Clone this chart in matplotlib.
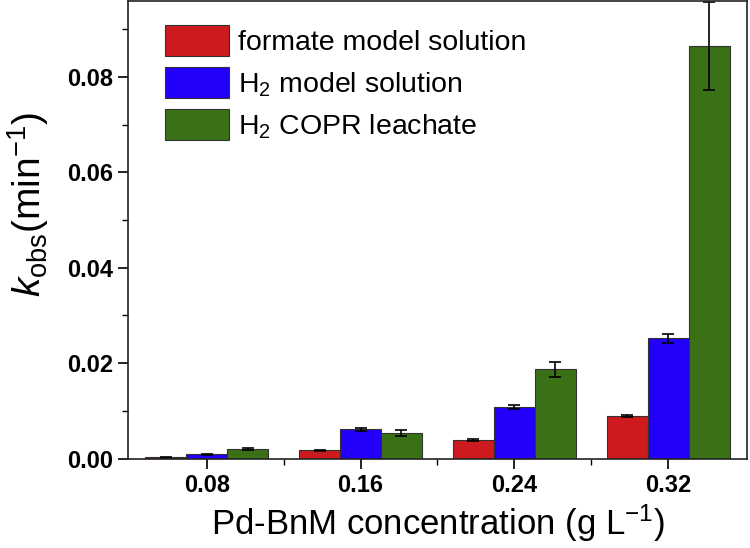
import matplotlib
matplotlib.use('Agg')
import matplotlib.pyplot as plt
import matplotlib.ticker as ticker
import numpy as np

plt.rcParams['font.family'] = ['Liberation Sans', 'DejaVu Sans']
plt.rcParams['mathtext.fontset'] = 'custom'
plt.rcParams['mathtext.rm'] = 'Liberation Sans'
plt.rcParams['mathtext.it'] = 'Liberation Sans:italic'
plt.rcParams['mathtext.bf'] = 'Liberation Sans:bold'

# data
concentrations = ['0.08', '0.16', '0.24', '0.32']
formate_model = [0.0003, 0.0017, 0.0038, 0.0089]
formate_err = [0.0001, 0.0001, 0.0002, 0.0003]
h2_model = [0.0009, 0.0061, 0.0108, 0.0252]
h2_model_err = [0.0001, 0.0003, 0.0005, 0.0010]
h2_copr = [0.0020, 0.0054, 0.0187, 0.0865]
h2_copr_err = [0.0003, 0.0006, 0.0016, 0.0092]
labels = ['formate model solution', 'H$_2$ model solution', 'H$_2$ COPR leachate']
colors = ['#cc1a1f', '#2200fa', '#3a7016']

fig = plt.figure(figsize=(7.5, 5.48), dpi=100)
ax = fig.add_axes([0.171, 0.1633, 0.8246, 0.835])

x = np.arange(len(concentrations))
w = 0.266
series = [(formate_model, formate_err), (h2_model, h2_model_err), (h2_copr, h2_copr_err)]
for i, (vals, errs) in enumerate(series):
    ax.bar(x + (i - 1) * w, vals, w, yerr=errs, color=colors[i], edgecolor='#333333',
           linewidth=0.8, label=labels[i], capsize=4,
           error_kw=dict(ecolor='black', elinewidth=1.2, capthick=1.2))

ax.set_xlim(-0.51, 3.51)
ax.set_ylim(0, 0.0959)
ax.set_xticks(x)
ax.set_xticklabels(concentrations)
ax.xaxis.set_minor_locator(ticker.FixedLocator([0.5, 1.5, 2.5]))
ax.yaxis.set_major_locator(ticker.MultipleLocator(0.02))
ax.yaxis.set_minor_locator(ticker.MultipleLocator(0.01))
ax.yaxis.set_major_formatter(ticker.FormatStrFormatter('%.2f'))
ax.tick_params(which='major', direction='out', length=7, width=1.2, labelsize=17, pad=4)
ax.tick_params(which='minor', direction='out', length=4, width=1.0)
for lab in ax.get_xticklabels() + ax.get_yticklabels():
    lab.set_fontweight('bold')
for s in ax.spines.values():
    s.set_linewidth(1.2)
    s.set_color('#222222')

ax.set_xlabel('Pd-BnM concentration (g L$^{-1}$)', fontsize=25, labelpad=4)
ax.set_ylabel('$k_{\\mathrm{obs}}$(min$^{-1}$)', fontsize=28)
ax.yaxis.set_label_coords(-0.125, 0.555)

ax.legend(loc='upper left', bbox_to_anchor=(0.06, 0.947), frameon=False, fontsize=20.5,
          handlelength=2.25, handleheight=1.3, handletextpad=0.3, labelspacing=0.38,
          borderaxespad=0.0, borderpad=0.0)

plt.savefig('out.png', dpi=100)
